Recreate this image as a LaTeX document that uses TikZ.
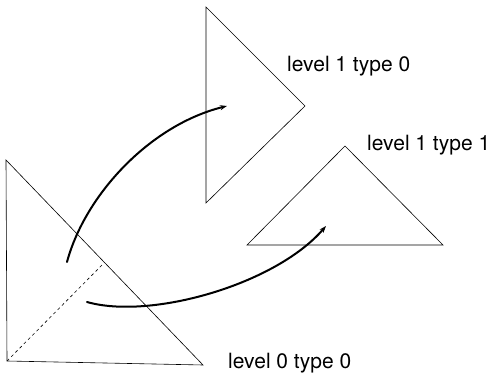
\documentclass[tikz,border=0pt]{standalone}
\usepackage{fontspec}
\setmainfont{TeX Gyre Heros}
\usepackage{tikz}
\usetikzlibrary{arrows.meta,positioning,calc}

\begin{document}
\begin{tikzpicture}[x=1pt,y=-1pt,>={Stealth[length=7pt,width=5pt]},tri/.style={draw,line width=0.6pt,line join=miter},move/.style={->,line width=2pt,line cap=round},lbl/.style={anchor=base west,inner sep=0pt,font=\fontsize{21}{25}\selectfont}]
\useasboundingbox (0,0) rectangle (493,374);
% level 0 triangle
\coordinate (a0) at (6,160);
\coordinate (b0) at (7,361);
\coordinate (c0) at (203,365);
\coordinate (m0) at ($(a0)!0.5!(c0)$);
\draw[tri] (a0)--(b0)--(c0)--cycle;
\draw[dashed,line width=0.6pt] (b0)--(m0);
% level 1 triangles
\coordinate (a1) at (206,7);
\coordinate (b1) at (305,106);
\coordinate (c1) at (206,203);
\draw[tri] (a1)--(b1)--(c1)--cycle;
\coordinate (a2) at (247,245);
\coordinate (b2) at (345,146);
\coordinate (c2) at (443,245);
\draw[tri] (a2)--(b2)--(c2)--cycle;
% labels
\node[lbl] (t10) at (287,72) {level 1 type 0};
\node[lbl] (t11) at (367,151) {level 1 type 1};
\node[lbl] (t00) at (228,368) {level 0 type 0};
% arrows
\coordinate (s1) at (67,262);
\coordinate (e1) at (227,106);
\coordinate (s2) at (87,302);
\coordinate (e2) at (326,226);
\draw[move] (s1) .. controls (85,195) and (150,125) .. (e1);
\draw[move] (s2) .. controls (150,320) and (275,285) .. (e2);
\end{tikzpicture}
\end{document}
